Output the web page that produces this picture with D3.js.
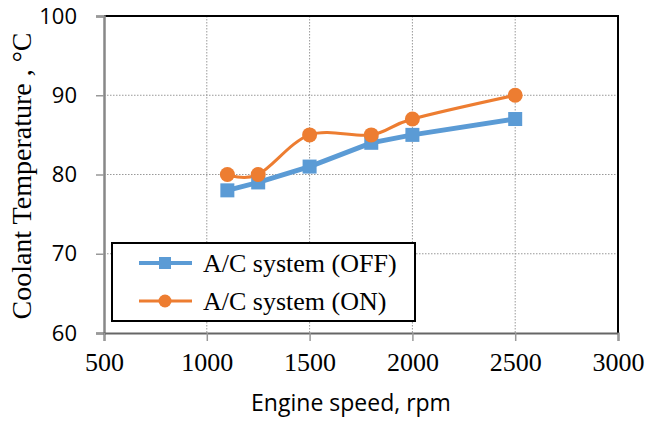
<!DOCTYPE html>
<html>
<head>
<meta charset="utf-8">
<script src="https://cdn.jsdelivr.net/npm/d3@7"></script>
<style>
  body { margin: 0; background: #fff; }
</style>
</head>
<body>
<div id="vis"></div>
<script>
const speeds = [1100, 1250, 1500, 1800, 2000, 2500];
const tempOff = [78, 79, 81, 84, 85, 87];
const tempOn = [80, 80, 85, 85, 87, 90];
const xTicks = [500, 1000, 1500, 2000, 2500, 3000];
const yTicks = [60, 70, 80, 90, 100];
const seriesNames = ["A/C system (OFF)", "A/C system (ON)"];

const W = 646, H = 421;
const plot = { left: 104, right: 618, top: 16, bottom: 333 };

const svg = d3.select("#vis").append("svg")
    .attr("width", W)
    .attr("height", H);

const x = d3.scaleLinear().domain([500, 3000]).range([plot.left, plot.right]);
const y = d3.scaleLinear().domain([60, 100]).range([plot.bottom, plot.top]);

// grid
svg.append("g")
    .selectAll("line")
    .data(xTicks.filter(d => d > 500 && d < 3000))
    .join("line")
    .attr("x1", d => x(d)).attr("x2", d => x(d))
    .attr("y1", plot.top).attr("y2", plot.bottom)
    .attr("stroke", "#999").attr("stroke-width", 1)
    .attr("stroke-dasharray", "1.5,1.5");

svg.append("g")
    .selectAll("line")
    .data(yTicks.filter(d => d > 60 && d < 100))
    .join("line")
    .attr("x1", plot.left).attr("x2", plot.right)
    .attr("y1", d => y(d)).attr("y2", d => y(d))
    .attr("stroke", "#999").attr("stroke-width", 1)
    .attr("stroke-dasharray", "1.5,1.5");

// frame top/right
svg.append("path")
    .attr("d", `M${plot.left},${plot.top}H${plot.right}V${plot.bottom}`)
    .attr("fill", "none")
    .attr("stroke", "#000")
    .attr("stroke-width", 2);

// axes
const yAxis = svg.append("g")
    .attr("transform", `translate(${plot.left},0)`)
    .call(d3.axisLeft(y).tickValues(yTicks).tickSize(8).tickPadding(19));
yAxis.select(".domain").attr("stroke", "#888").attr("stroke-width", 2.5);
yAxis.selectAll(".tick line").attr("stroke", "#999").attr("stroke-width", 1.5);
yAxis.selectAll("text")
    .attr("fill", "#000")
    .style("font-family", "'Open Sans', sans-serif")
    .style("font-size", "22px");

const xAxis = svg.append("g")
    .attr("transform", `translate(0,${plot.bottom})`)
    .call(d3.axisBottom(x).tickValues(xTicks).tickFormat(d3.format("d")).tickSize(8).tickPadding(12));
xAxis.select(".domain").attr("stroke", "#666").attr("stroke-width", 2);
xAxis.selectAll(".tick line").attr("stroke", "#999").attr("stroke-width", 1.5);
xAxis.selectAll("text")
    .attr("fill", "#000")
    .style("font-family", "'Liberation Serif', 'Times New Roman', serif")
    .style("font-size", "26px");

// axis titles
svg.append("text")
    .attr("x", 351)
    .attr("y", 411)
    .attr("text-anchor", "middle")
    .style("font-family", "'Open Sans', sans-serif")
    .style("font-size", "23px")
    .text("Engine speed, rpm");

svg.append("text")
    .attr("transform", "translate(31,176) rotate(-90)")
    .attr("text-anchor", "middle")
    .style("font-family", "'Liberation Serif', 'Times New Roman', serif")
    .style("font-size", "28px")
    .text("Coolant Temperature , °C");

// series
const offData = speeds.map((s, i) => ({ s, t: tempOff[i] }));
const onData = speeds.map((s, i) => ({ s, t: tempOn[i] }));

svg.append("path")
    .datum(offData)
    .attr("fill", "none")
    .attr("stroke", "#5B9BD5")
    .attr("stroke-width", 5)
    .attr("d", d3.line().x(d => x(d.s)).y(d => y(d.t)));

svg.append("path")
    .datum(onData)
    .attr("fill", "none")
    .attr("stroke", "#ED7D31")
    .attr("stroke-width", 3)
    .attr("d", d3.line().curve(d3.curveCardinal.tension(0)).x(d => x(d.s)).y(d => y(d.t)));

svg.selectAll(".off-pt")
    .data(offData)
    .join("rect")
    .attr("class", "off-pt")
    .attr("x", d => x(d.s) - 7).attr("y", d => y(d.t) - 7)
    .attr("width", 14).attr("height", 14)
    .attr("fill", "#5B9BD5");

svg.selectAll(".on-pt")
    .data(onData)
    .join("circle")
    .attr("class", "on-pt")
    .attr("cx", d => x(d.s)).attr("cy", d => y(d.t))
    .attr("r", 7.5)
    .attr("fill", "#ED7D31");

// legend
const lg = svg.append("g");
lg.append("rect")
    .attr("x", 112).attr("y", 243)
    .attr("width", 303).attr("height", 78)
    .attr("fill", "#fff")
    .attr("stroke", "#000")
    .attr("stroke-width", 2);

const legendRows = [
    { name: seriesNames[0], color: "#5B9BD5", shape: "square", w: 4, cy: 263 },
    { name: seriesNames[1], color: "#ED7D31", shape: "circle", w: 3, cy: 301 }
];
legendRows.forEach(r => {
    lg.append("line")
        .attr("x1", 139).attr("x2", 192)
        .attr("y1", r.cy).attr("y2", r.cy)
        .attr("stroke", r.color).attr("stroke-width", r.w);
    if (r.shape === "square") {
        lg.append("rect")
            .attr("x", 159).attr("y", r.cy - 6)
            .attr("width", 12).attr("height", 12)
            .attr("fill", r.color);
    } else {
        lg.append("circle")
            .attr("cx", 165).attr("cy", r.cy).attr("r", 6.5)
            .attr("fill", r.color);
    }
    lg.append("text")
        .attr("x", 203).attr("y", r.cy + 9)
        .style("font-family", "'Liberation Serif', 'Times New Roman', serif")
        .style("font-size", "26px")
        .text(r.name);
});
</script>
</body>
</html>
